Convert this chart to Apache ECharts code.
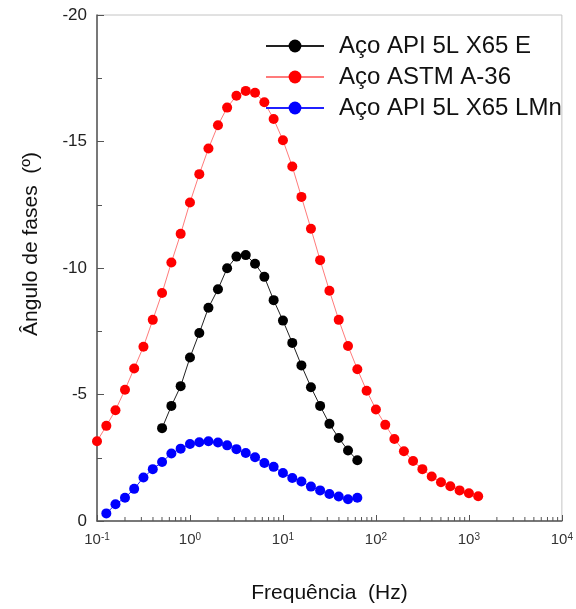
<!DOCTYPE html>
<html>
<head>
<meta charset="utf-8">
<script src="https://cdn.jsdelivr.net/npm/echarts@6/dist/echarts.min.js"></script>
<style>html,body{margin:0;padding:0;background:#fff}#c{width:576px;height:609px}</style>
</head>
<body>
<div id="c"></div>
<script>
// Frequencies (Hz)
const freqBlack = [0.501, 0.631, 0.794, 1, 1.26, 1.58, 2, 2.51, 3.16, 3.98, 5.01, 6.31, 7.94, 10, 12.6, 15.8, 20, 25.1, 31.6, 39.8, 50.1, 63.1];
const angBlack = [-3.67, -4.55, -5.33, -6.46, -7.43, -8.43, -9.16, -9.99, -10.45, -10.51, -10.17, -9.65, -8.73, -7.92, -7.04, -6.15, -5.29, -4.55, -3.84, -3.28, -2.79, -2.40];

const freqRed = [0.1, 0.126, 0.158, 0.2, 0.251, 0.316, 0.398, 0.501, 0.631, 0.794, 1, 1.26, 1.58, 2, 2.51, 3.16, 3.98, 5.01, 6.31, 7.94, 10, 12.6, 15.8, 20, 25.1, 31.6, 39.8, 50.1, 63.1, 79.4, 100, 126, 158, 200, 251, 316, 398, 501, 631, 794, 1000, 1259];
const angRed = [-3.15, -3.76, -4.38, -5.19, -6.03, -6.89, -7.95, -9.01, -10.22, -11.35, -12.59, -13.71, -14.72, -15.64, -16.34, -16.81, -17.00, -16.93, -16.55, -15.89, -15.05, -14.01, -12.81, -11.55, -10.31, -9.10, -7.95, -6.92, -6.00, -5.15, -4.41, -3.80, -3.24, -2.76, -2.37, -2.05, -1.76, -1.53, -1.37, -1.21, -1.10, -0.98];

const freqBlue = [0.126, 0.158, 0.2, 0.251, 0.316, 0.398, 0.501, 0.631, 0.794, 1, 1.26, 1.58, 2, 2.51, 3.16, 3.98, 5.01, 6.31, 7.94, 10, 12.6, 15.8, 20, 25.1, 31.6, 39.8, 50.1, 63.1];
const angBlue = [-0.30, -0.66, -0.92, -1.27, -1.72, -2.05, -2.33, -2.67, -2.86, -3.04, -3.11, -3.15, -3.10, -2.99, -2.84, -2.69, -2.52, -2.29, -2.14, -1.90, -1.70, -1.56, -1.36, -1.21, -1.07, -0.97, -0.86, -0.92];

const seriesNames = ['Aço API 5L X65 E', 'Aço ASTM A-36', 'Aço API 5L X65 LMn'];
const xTitle = 'Frequência  (Hz)';
const yTitle = 'Ângulo de fases  (º)';
const yTicks = [-20, -15, -10, -5, 0];
const xDecades = [0.1, 1, 10, 100, 1000, 10000];
const minorMultipliers = [2, 3, 4, 5, 6, 7, 8, 9];

const minorTickVals = [];
xDecades.slice(0, -1).forEach(d => minorMultipliers.forEach(m => minorTickVals.push([+(d * m).toPrecision(3), 0])));

const zip = (a, b) => a.map((v, i) => [v, b[i]]);
const FONT = '"Liberation Sans", Arial, sans-serif';

const chart = echarts.init(document.getElementById('c'), null, {renderer: 'canvas'});
chart.setOption({
  animation: false,
  backgroundColor: '#fff',
  textStyle: {fontFamily: FONT},
  grid: {left: 97, right: 13, top: 15, bottom: 80, show: true, borderColor: '#c4c4c4', borderWidth: 1},
  legend: {
    data: seriesNames,
    orient: 'vertical',
    left: 265, top: 34, padding: 0,
    itemWidth: 58, itemHeight: 16, itemGap: 7,
    textStyle: {fontSize: 24, color: '#111', fontFamily: FONT, lineHeight: 24, padding: [0, 0, 0, 10]},
    lineStyle: {width: 2}
  },
  xAxis: {
    type: 'log', logBase: 10, min: xDecades[0], max: xDecades[xDecades.length - 1],
    name: xTitle, nameLocation: 'middle', nameGap: 62,
    nameTextStyle: {fontSize: 21, color: '#111', fontFamily: FONT},
    axisLine: {show: true, lineStyle: {color: '#555', width: 1.5}},
    axisTick: {show: true, inside: true, length: 6, lineStyle: {color: '#555'}},
    splitLine: {show: false},
    axisLabel: {
      margin: 11,
      formatter: v => '{b|10}{s|' + Math.round(Math.log10(v)) + '}',
      rich: {
        b: {fontSize: 15, color: '#333', fontFamily: FONT, verticalAlign: 'bottom'},
        s: {fontSize: 10, color: '#333', fontFamily: FONT, verticalAlign: 'top'}
      }
    }
  },
  yAxis: {
    type: 'value', min: yTicks[0], max: yTicks[yTicks.length - 1], interval: 5, inverse: true,
    axisLine: {show: true, lineStyle: {color: '#555', width: 1.5}},
    axisTick: {show: true, inside: true, length: 7, lineStyle: {color: '#555'}},
    minorTick: {show: true, splitNumber: 2, length: 5, lineStyle: {color: '#555'}},
    splitLine: {show: false},
    axisLabel: {fontSize: 17, color: '#222', margin: 10, fontFamily: FONT}
  },
  graphic: [{
    type: 'text', x: 31, y: 244, rotation: Math.PI / 2,
    style: {text: yTitle, fontSize: 21, fill: '#111', font: '21px ' + FONT, textAlign: 'center', textVerticalAlign: 'middle'}
  }],
  series: [
    {
      name: seriesNames[0], type: 'line', data: zip(freqBlack, angBlack), z: 4,
      symbol: 'circle', symbolSize: 10, itemStyle: {color: '#000'},
      lineStyle: {color: '#222', width: 1}
    },
    {
      name: seriesNames[1], type: 'line', data: zip(freqRed, angRed), z: 3,
      symbol: 'circle', symbolSize: 10, itemStyle: {color: '#ff0000'},
      lineStyle: {color: '#ff7b7b', width: 1}
    },
    {
      name: seriesNames[2], type: 'line', data: zip(freqBlue, angBlue), z: 3,
      symbol: 'circle', symbolSize: 10, itemStyle: {color: '#0000ff'},
      lineStyle: {color: '#2020ff', width: 1}
    },
    {
      name: 'minorTicks', type: 'custom', data: minorTickVals, silent: true, clip: false, z: 5,
      encode: {x: 0, y: 1},
      renderItem: (params, api) => {
        const p = api.coord([api.value(0), 0]);
        return {type: 'line', shape: {x1: p[0], y1: p[1], x2: p[0], y2: p[1] - 4}, style: {stroke: '#555', lineWidth: 1}};
      }
    }
  ]
});
</script>
</body>
</html>
